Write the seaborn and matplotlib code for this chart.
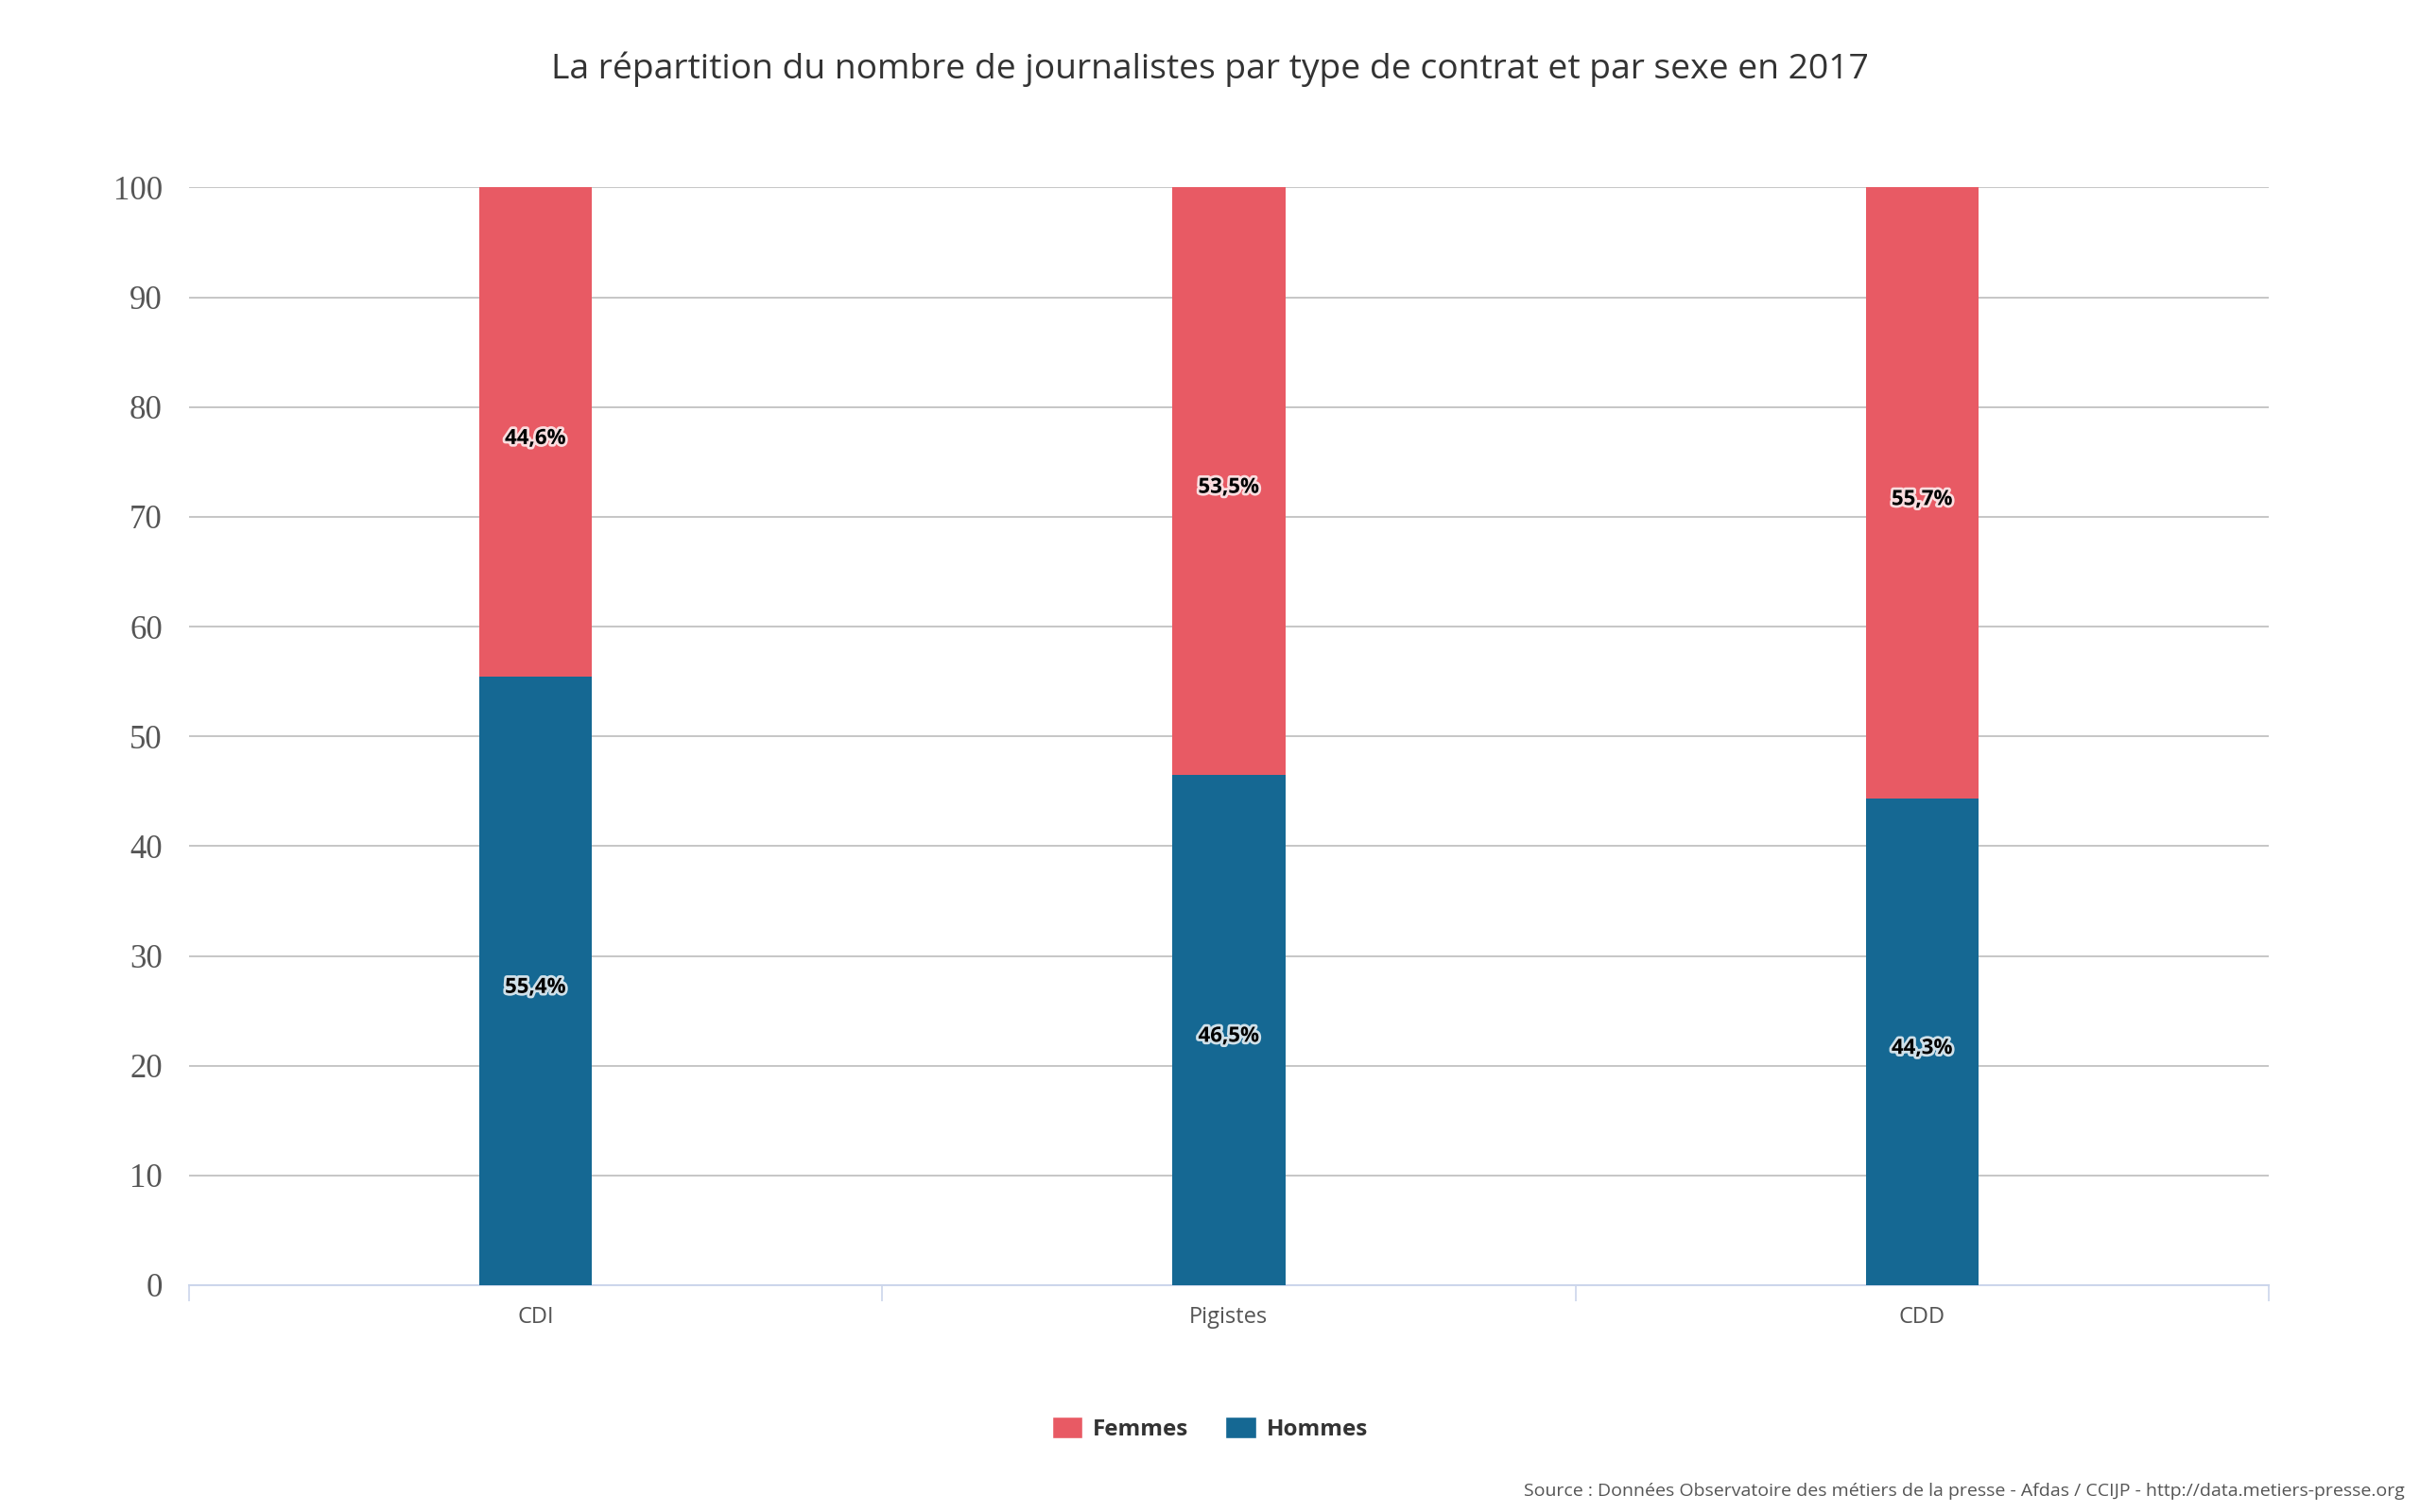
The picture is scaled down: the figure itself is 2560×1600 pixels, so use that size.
import matplotlib
matplotlib.use("Agg")
import matplotlib.pyplot as plt
import matplotlib.patheffects as pe
from matplotlib.patches import Patch
import pandas as pd
import seaborn as sns

# data
contrats = ["CDI", "Pigistes", "CDD"]
hommes = [55.4, 46.5, 44.3]
femmes = [44.6, 53.5, 55.7]
yticks = [0, 10, 20, 30, 40, 50, 60, 70, 80, 90, 100]

titre = "La répartition du nombre de journalistes par type de contrat et par sexe en 2017"
source = "Source : Données Observatoire des métiers de la presse - Afdas / CCIJP - http://data.metiers-presse.org"

col_f = "#e85a64"
col_h = "#156893"

sns.set_theme(style="white")
plt.rcParams["font.family"] = ["Open Sans", "DejaVu Sans"]

df = pd.DataFrame({"contrat": contrats, "hommes": hommes, "femmes": femmes})
df["total"] = df["hommes"] + df["femmes"]

fig = plt.figure(figsize=(25.6, 16), dpi=100)
ax = fig.add_axes([0.078, 0.15, 0.8595, 0.726])

sns.barplot(data=df, x="contrat", y="total", color=col_f, width=0.163,
            saturation=1, ax=ax, zorder=3, linewidth=0)
sns.barplot(data=df, x="contrat", y="hommes", color=col_h, width=0.163,
            saturation=1, ax=ax, zorder=3, linewidth=0)

# labels
glow = [pe.withStroke(linewidth=4, foreground="white", alpha=0.8)]
for i, row in df.iterrows():
    ax.text(i, row["hommes"] + row["femmes"] / 2 - 0.6, f"{row['femmes']:.1f}%".replace(".", ","),
            ha="center", va="center", fontsize=16, fontweight="bold", color="black",
            path_effects=glow, zorder=5)
    ax.text(i, row["hommes"] / 2 - 0.6, f"{row['hommes']:.1f}%".replace(".", ","),
            ha="center", va="center", fontsize=16, fontweight="bold", color="black",
            path_effects=glow, zorder=5)

ax.set_xlim(-0.5, 2.5)
ax.set_ylim(0, 100)
ax.set_yticks(yticks)
ax.set_yticklabels([str(v) for v in yticks], family="Liberation Serif",
                   fontsize=25, color="#555555")
ax.grid(axis="y", color="#bcbcbc", linewidth=1.2, zorder=0)
ax.grid(axis="x", visible=False)
ax.set_xlabel("")
ax.set_ylabel("")
ax.tick_params(axis="y", length=0, pad=20)
ax.tick_params(axis="x", which="major", length=0, pad=16, labelsize=17, labelcolor="#555555")
ax.set_xticks([-0.5, 0.5, 1.5, 2.5], minor=True)
ax.tick_params(axis="x", which="minor", bottom=True, length=12, width=1.2,
               color="#ccd6eb", direction="out")
for s in ["top", "right", "left"]:
    ax.spines[s].set_visible(False)
ax.spines["bottom"].set_color("#ccd6eb")
ax.spines["bottom"].set_linewidth(1.5)

fig.suptitle(titre, y=0.954, fontsize=26.8, color="#333333", va="center")

handles = [Patch(facecolor=col_f, label="Femmes"), Patch(facecolor=col_h, label="Hommes")]
leg = fig.legend(handles=handles, loc="center", bbox_to_anchor=(0.5, 0.055), ncol=2,
                 frameon=False, prop={"weight": "bold", "size": 17.5},
                 handlelength=1.35, handleheight=1.1, handletextpad=0.45, columnspacing=1.6)
for t in leg.get_texts():
    t.set_color("#333333")

fig.text(0.9935, 0.008, source, ha="right", va="bottom", fontsize=14, color="#555555")

fig.savefig("out.png", dpi=100)
